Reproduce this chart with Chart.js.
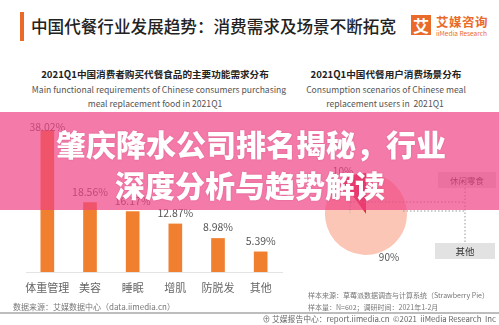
<!DOCTYPE html>
<html>
<head>
<meta charset="utf-8">
<script src="https://cdn.jsdelivr.net/npm/chart.js@4"></script>
<style>
  html, body { margin: 0; padding: 0; background: #fff; }
  #page { position: relative; width: 499px; height: 325px; overflow: hidden; background: #fff;
    font-family: "Noto Sans CJK SC", "Noto Sans", sans-serif; }
  .abs { position: absolute; white-space: nowrap; }
  .center { transform: translate(-50%, -50%); }
  canvas { position: absolute; }
</style>
</head>
<body>
<div id="page">
  <!-- header -->
  <div class="abs" style="left:20px;top:12px;width:4px;height:29px;background:#ea6a2a;"></div>
  <div class="abs" style="left:31px;top:15px;font-size:16.6px;line-height:22px;color:#222;font-weight:500;">中国代餐行业发展趋势：消费需求及场景不断拓宽</div>
  <div class="abs" style="left:411px;top:15px;width:20px;height:20px;background:#ea6a2a;color:#fff;font-size:16px;line-height:20px;text-align:center;font-weight:700;">艾</div>
  <div class="abs" style="left:436px;top:14px;font-size:12.5px;line-height:15px;color:#ea6a2a;font-weight:700;letter-spacing:0.5px;">艾媒咨询</div>
  <div class="abs" style="left:436px;top:29px;font-size:6.5px;line-height:8px;color:#ea6a2a;">iiMedia Research</div>

  <!-- left chart titles -->
  <div class="abs center" style="left:155px;top:74px;font-size:9.6px;font-weight:700;color:#222;">2021Q1中国消费者购买代餐食品的主要功能需求分布</div>
  <div class="abs center" style="left:159px;top:89px;font-size:8.6px;color:#555;">Main functional requirements of Chinese consumers purchasing</div>
  <div class="abs center" style="left:155px;top:103px;font-size:8.6px;color:#555;">meal replacement food in 2021Q1</div>

  <!-- right chart titles -->
  <div class="abs center" style="left:386px;top:74px;font-size:9.6px;font-weight:700;color:#222;">2021Q1中国代餐用户消费场景分布</div>
  <div class="abs center" style="left:386px;top:89px;font-size:8.6px;color:#555;">Consumption scenarios of Chinese meal</div>
  <div class="abs center" style="left:385px;top:103px;font-size:8.6px;color:#555;">replacement users in&nbsp; 2021Q1</div>

  <canvas id="barChart" width="300" height="190" style="left:0;top:110px;"></canvas>
  <canvas id="pieChart" width="140" height="140" style="left:296px;top:144px;"></canvas>

  <!-- leader lines and scenario boxes -->
  <svg class="abs" style="left:0;top:0;" width="499" height="325">
    <g stroke="#999" stroke-width="1" stroke-dasharray="1.5,2" fill="none">
      <line x1="350" y1="202" x2="465" y2="202"/>
      <line x1="350" y1="202" x2="350" y2="213"/>
      <line x1="403" y1="211" x2="465" y2="211"/>
      <line x1="465" y1="188" x2="465" y2="243"/>
    </g>
    <rect x="438" y="172" width="58" height="16" fill="#e2e2e2"/>
    <rect x="435" y="243" width="60" height="16" fill="#e2e2e2"/>
  </svg>
  <div class="abs center" style="left:467px;top:180px;font-size:8.5px;color:#444;">休闲零食</div>
  <div class="abs center" style="left:465px;top:251px;font-size:9.5px;color:#333;">其他</div>

  <!-- footers -->
  <div class="abs" style="left:13px;top:302px;font-size:8px;line-height:10px;color:#777;">数据来源：艾媒数据中心（data.iimedia.cn）</div>
  <div class="abs" style="left:308px;top:291px;font-size:7px;line-height:9px;color:#777;">样本来源：草莓派数据调查与计算系统（Strawberry Pie）</div>
  <div class="abs" style="left:308px;top:303px;font-size:7px;line-height:9px;color:#777;">样本量：N=602；调研时间：2021年1-2月</div>
  <div class="abs" style="left:0;top:312px;width:499px;height:2px;background:#bdbdbd;"></div>
  <div class="abs" style="right:3px;top:314px;font-size:7.8px;line-height:10px;color:#666;">⊕ 艾媒报告中心：report.iimedia.cn &nbsp;©2021 &nbsp;iiMedia Research &nbsp;Inc</div>

  <!-- pink banner -->
  <div class="abs" style="left:0;top:112px;width:499px;height:98px;background:rgba(240,65,133,0.7);"></div>
  <div class="abs center" style="left:251px;top:143px;font-size:30px;font-weight:900;color:#fff;text-shadow:0 0 2px rgba(150,30,80,0.3);">肇庆降水公司排名揭秘，行业</div>
  <div class="abs center" style="left:250px;top:184px;font-size:30px;font-weight:900;color:#fff;text-shadow:0 0 2px rgba(150,30,80,0.3);">深度分析与趋势解读</div>
</div>

<script>
// === DATA ===
const categories = ["体重管理", "美容", "睡眠", "增肌", "防脱发", "其他"];
const demandShares = [38.02, 18.56, 16.17, 12.87, 8.98, 5.39];
const scenarioLabels = ["其他", "休闲零食"];
const scenarioShares = [90, 10];

const FONT = "'Noto Sans CJK SC', 'Noto Sans', sans-serif";

// value labels above bars
const barValueLabels = {
  id: "barValueLabels",
  afterDatasetsDraw(chart) {
    const { ctx } = chart;
    const meta = chart.getDatasetMeta(0);
    ctx.save();
    ctx.font = "10.5px " + FONT;
    ctx.fillStyle = "#555";
    ctx.textAlign = "center";
    ctx.textBaseline = "middle";
    meta.data.forEach((bar, i) => {
      const y = Math.max(bar.y - 11, 17);
      ctx.fillText(demandShares[i].toFixed(2) + "%", bar.x, y);
    });
    ctx.restore();
  },
};

new Chart(document.getElementById("barChart"), {
  type: "bar",
  data: {
    labels: categories,
    datasets: [
      {
        data: demandShares,
        backgroundColor: "#f07f2f",
        barThickness: 13,
      },
    ],
  },
  options: {
    responsive: false,
    animation: false,
    layout: { padding: { left: 26, right: 18, top: 20, bottom: 6 } },
    plugins: { legend: { display: false }, tooltip: { enabled: false } },
    scales: {
      x: {
        grid: { display: false, drawTicks: false },
        border: { display: true, color: "#e3e3e3" },
        ticks: {
          color: "#666",
          font: { family: FONT, size: 11 },
          padding: 9,
          maxRotation: 0,
          minRotation: 0,
          autoSkip: false,
        },
        afterFit(scale) {
          scale.height = 22;
          scale.paddingLeft = 0;
          scale.paddingRight = 0;
        },
      },
      y: { display: false, min: 0, max: 38.02 },
    },
  },
  plugins: [barValueLabels],
});

// percentage labels around the pie
const pieLabels = {
  id: "pieLabels",
  afterDatasetsDraw(chart) {
    const { ctx } = chart;
    const meta = chart.getDatasetMeta(0);
    ctx.save();
    ctx.font = "10px " + FONT;
    ctx.fillStyle = "#555";
    ctx.textAlign = "center";
    ctx.textBaseline = "middle";
    meta.data.forEach((arc, i) => {
      const mid = (arc.startAngle + arc.endAngle) / 2 - Math.PI / 18;
      const r = arc.outerRadius + 8;
      ctx.fillText(scenarioShares[i] + "%", arc.x + Math.cos(mid) * r, arc.y + Math.sin(mid) * r);
    });
    ctx.restore();
  },
};

new Chart(document.getElementById("pieChart"), {
  type: "pie",
  data: {
    labels: scenarioLabels,
    datasets: [
      {
        data: scenarioShares,
        backgroundColor: ["#fcc6b6", "#e0303e"],
        borderWidth: 0,
      },
    ],
  },
  options: {
    responsive: false,
    animation: false,
    layout: { padding: 29 },
    plugins: { legend: { display: false }, tooltip: { enabled: false } },
  },
  plugins: [pieLabels],
});
</script>
</body>
</html>
